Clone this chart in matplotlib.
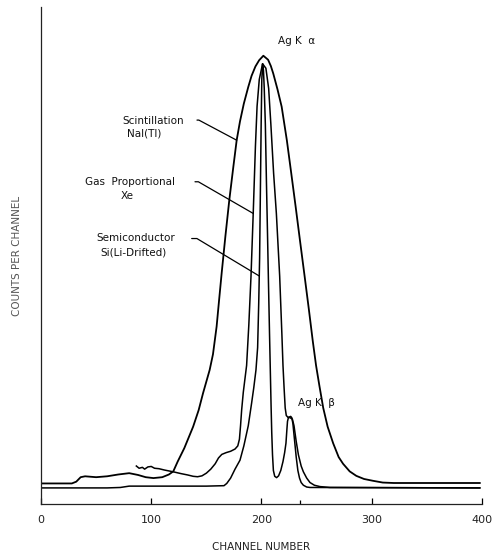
import matplotlib
matplotlib.use("Agg")
import matplotlib.pyplot as plt

# Ag K-alpha / K-beta spectra seen by three detector types

# Scintillation NaI(Tl)
scint_ch = [0, 28, 32, 36, 40, 50, 60, 70, 80, 88, 95, 102, 110, 116, 120, 124, 130,
            138, 143, 147, 153, 156, 159.3, 161.5, 163.9, 167.3, 170.8, 174.5, 177.5, 180.5,
            184, 188, 191, 194.5, 197.9, 201.7, 206, 208.5, 210.7, 214.5, 218.3, 223, 227,
            231, 235, 239, 243, 246.5, 249.5, 252.5, 256, 260, 265, 270, 274, 280, 286,
            293, 301, 310, 320, 398]
scint_y = [4.6, 4.6, 5.0, 6.0, 6.2, 6.0, 6.2, 6.6, 6.9, 6.5, 6.0, 5.8, 6.0, 6.6, 7.3, 9.5, 12.5,
           17.3, 21.0, 24.8, 30.0, 33.5, 39.7, 45.5, 51.7, 60.0, 68.0, 75.5, 81.4, 85.6,
           89.6, 93.3, 95.8, 97.9, 99.3, 100.3, 99.4, 98.0, 96.3, 92.8, 88.9, 81.4, 74.0,
           66.5, 58.8, 51.2, 43.5, 36.5, 31.0, 26.5, 21.5, 17.3, 13.6, 10.5, 9.0, 7.3, 6.3,
           5.6, 5.2, 4.8, 4.7, 4.7]

# Gas proportional Xe
gas_ch = [86.5, 89, 92, 94, 97, 100, 103, 107, 112, 120, 127, 133, 138, 142, 146, 150, 154,
          158, 161, 164, 168, 172, 176, 178.5, 180, 181, 182, 183.5, 185, 186.5, 188.5, 190.5,
          192.5, 194.5, 196, 198, 201, 204, 206.5, 208.5, 211, 213.5, 216.5, 218.5, 219.5,
          220.5, 221.5, 222.5, 224, 226, 228, 229.5, 231.5, 233.5, 236, 238, 241, 244, 248,
          253, 262, 398]
gas_y = [8.5, 8.0, 8.2, 7.8, 8.3, 8.4, 8.0, 7.9, 7.6, 7.2, 6.8, 6.5, 6.2, 6.1, 6.3, 6.9, 7.8,
         9.0, 10.3, 11.1, 11.5, 11.8, 12.3, 13.0, 14.5, 17.5, 21.0, 25.0, 28.0, 31.0, 40.0, 51.0,
         65.0, 80.0, 89.0, 95.0, 98.5, 97.5, 93.0, 85.0, 74.0, 65.0, 51.0, 38.0, 31.0,
         26.0, 21.5, 19.8, 19.4, 19.3, 19.0, 17.5, 14.0, 11.0, 8.5, 7.2, 5.8, 4.8, 4.2,
         3.9, 3.7, 3.6]

# Semiconductor Si(Li-drifted)
semi_ch = [0, 60, 72, 80, 90, 120, 150, 166, 168.5, 172, 176, 180.5, 184, 188, 191, 193, 195,
           196.5, 197.5, 198.3, 199, 199.7, 200.3, 201, 201.8, 202.5, 203.5, 204.5, 205.5,
           206.3, 207.3, 208, 208.7, 209.3, 210, 210.8, 212, 213.7, 215.5, 217.5, 219.5, 221,
           222.2, 223, 223.6, 224.5, 226.5, 227.5, 228.5, 229.5, 230.5, 231.5, 233, 234.5,
           236, 238, 241, 244, 398]
semi_y = [3.6, 3.6, 3.7, 4.0, 4.0, 4.0, 4.0, 4.1, 4.6, 5.8, 7.8, 9.8, 13.0, 17.5, 22.5, 26.0, 30.0,
          35.0, 45.0, 55.0, 70.0, 85.0, 95.0, 98.5, 97.0, 93.0, 85.0, 72.0, 60.0,
          50.0, 38.0, 30.0, 22.0, 16.0, 11.0, 7.5, 6.2, 5.9, 6.3, 7.5, 9.5, 11.5,
          13.6, 16.5, 18.5, 19.4, 19.6, 19.3, 18.0, 15.5, 13.0, 10.5, 7.5, 5.8,
          4.8, 4.2, 3.8, 3.7, 3.6]

x_ticks = [0, 100, 200, 300, 400]
kbeta_mark = 235

fig = plt.figure(figsize=(4.95, 5.53), dpi=100)
ax = fig.add_axes([0.0828, 0.0886, 0.8909, 0.8987])

ax.plot(scint_ch, scint_y, color="black", linewidth=1.3)
ax.plot(gas_ch, gas_y, color="black", linewidth=1.1)
ax.plot(semi_ch, semi_y, color="black", linewidth=1.1)

ax.set_xlim(0, 400)
ax.set_ylim(0, 111.2)

for side in ["top", "right"]:
    ax.spines[side].set_visible(False)
for side in ["left", "bottom"]:
    ax.spines[side].set_linewidth(0.9)
    ax.spines[side].set_color("#222222")

ax.set_xticks(x_ticks)
ax.set_xticklabels([str(t) for t in x_ticks])
ax.set_xticks([kbeta_mark], minor=True)
ax.tick_params(axis="x", which="major", direction="in", length=4, width=0.9, pad=8,
               labelsize=8, labelcolor="#222222")
ax.tick_params(axis="x", which="minor", direction="in", length=3, width=0.9)
ax.set_yticks([])

ax.set_xlabel("CHANNEL NUMBER", fontsize=7.5, color="#222222", labelpad=12)
ax.set_ylabel("COUNTS PER CHANNEL", fontsize=7.5, color="#555555", labelpad=14)

# curve labels with leader lines
txt = dict(fontsize=7.5, ha="center", va="center", color="#111111")
ax.text(102, 85.7, "Scintillation", **txt)
ax.text(94, 82.8, "NaI(Tl)", **txt)
ax.text(81, 72.0, "Gas  Proportional", **txt)
ax.text(78, 68.9, "Xe", **txt)
ax.text(86, 59.5, "Semiconductor", **txt)
ax.text(84, 56.2, "Si(Li-Drifted)", **txt)

lead = dict(arrowstyle="-", color="black", linewidth=0.9, shrinkA=0, shrinkB=0)
ax.annotate("", xy=(177.5, 81.4), xytext=(141.5, 85.9),
            arrowprops=dict(connectionstyle="angle,angleA=0,angleB=152,rad=0", **lead))
ax.annotate("", xy=(192.6, 65.0), xytext=(139.7, 72.1),
            arrowprops=dict(connectionstyle="angle,angleA=0,angleB=150,rad=0", **lead))
ax.annotate("", xy=(198.1, 51.0), xytext=(136.7, 59.4),
            arrowprops=dict(connectionstyle="angle,angleA=0,angleB=149,rad=0", **lead))

ax.text(232, 103.6, "Ag K  α", fontsize=7.5, ha="center", va="center", color="#111111")
ax.text(249.5, 22.6, "Ag K  β", fontsize=7.5, ha="center", va="center", color="#111111")

fig.savefig("out.png", dpi=100)
